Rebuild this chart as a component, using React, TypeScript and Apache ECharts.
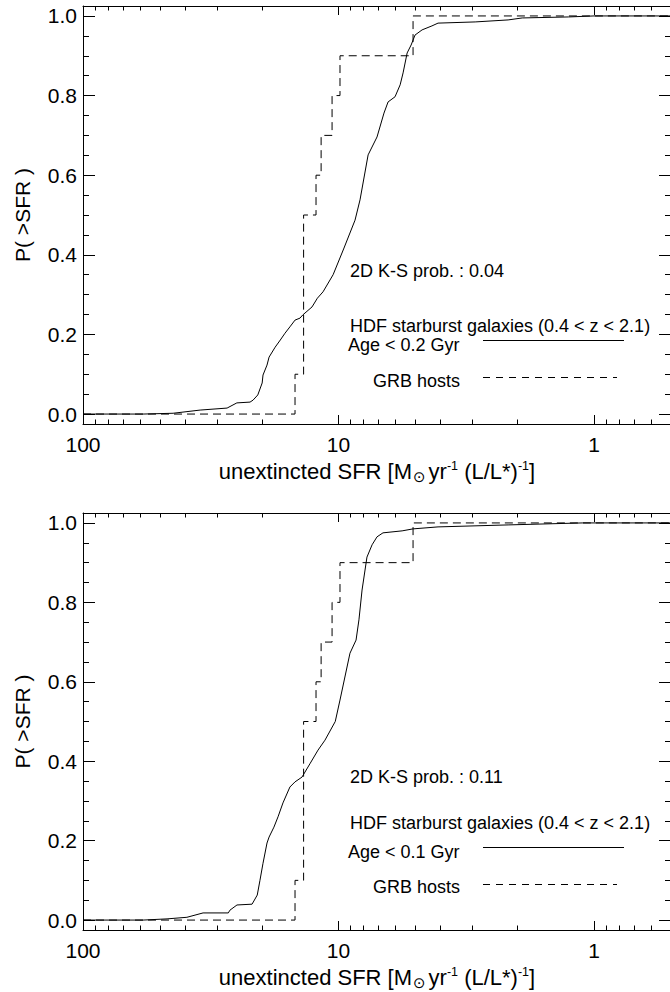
import React, { useEffect, useRef } from 'react';
import * as echarts from 'echarts';

const FONT = '"Liberation Sans", Arial, Helvetica, sans-serif';

// ---------- data ----------
// Top panel: HDF starburst galaxies, Age < 0.2 Gyr (cumulative P(>SFR))
const hdfTopSFR = [100, 58.2, 44.4, 34.8, 27.3, 25.0, 22.2, 21.6, 20.7, 19.9, 19.75, 19.05, 18.7, 17.7, 16.9, 16.2, 15.5, 14.8, 14.15, 13.8, 12.7, 12.1, 11.5, 10.5, 9.52, 8.62, 8.24, 7.66, 7.07, 6.64, 6.4, 6.01, 5.74, 5.59, 5.39, 5.2, 5.02, 4.71, 4.31, 4.08, 2.92, 2.17, 1.91, 1.26, 1.0, 0.5];
const hdfTopP = [0, 0, 0.002, 0.01, 0.015, 0.028, 0.03, 0.035, 0.048, 0.078, 0.098, 0.123, 0.143, 0.168, 0.186, 0.203, 0.219, 0.236, 0.241, 0.249, 0.269, 0.291, 0.307, 0.35, 0.417, 0.487, 0.538, 0.651, 0.696, 0.756, 0.784, 0.797, 0.827, 0.857, 0.907, 0.927, 0.952, 0.965, 0.975, 0.982, 0.985, 0.99, 0.995, 0.9975, 1.0, 1.0];

// Bottom panel: HDF starburst galaxies, Age < 0.1 Gyr
const hdfBotSFR = [100, 58.2, 46.9, 39.2, 33.9, 27.0, 26.6, 24.97, 21.8, 20.8, 20.3, 19.75, 19.05, 18.7, 17.9, 17.25, 16.5, 15.5, 14.8, 13.9, 12.9, 12.03, 11.3, 10.3, 9.87, 9.02, 8.54, 8.32, 8.09, 7.74, 7.39, 7.07, 6.7, 5.64, 5.11, 4.08, 2.17, 1.11, 0.5];
const hdfBotP = [0, 0, 0.003, 0.007, 0.018, 0.018, 0.025, 0.038, 0.04, 0.063, 0.1, 0.143, 0.194, 0.209, 0.234, 0.26, 0.295, 0.335, 0.348, 0.36, 0.395, 0.428, 0.453, 0.5, 0.554, 0.672, 0.705, 0.756, 0.831, 0.914, 0.945, 0.965, 0.975, 0.98, 0.985, 0.99, 0.995, 1.0, 1.0];

// GRB hosts (step function, same in both panels)
const grbSFR = [100, 14.8, 13.7, 12.25, 11.7, 10.6, 9.87, 5.11, 0.5];
const grbP = [0, 0.1, 0.5, 0.6, 0.7, 0.8, 0.9, 1.0, 1.0];

const ksTop = '2D K-S prob. : 0.04';
const ksBot = '2D K-S prob. : 0.11';
const ageTop = 'Age < 0.2 Gyr';
const ageBot = 'Age < 0.1 Gyr';
const hdfLabel = 'HDF starburst galaxies (0.4 < z < 2.1)';
const grbLabel = 'GRB hosts';

const xMajorLabels = [1, 10, 100];
const xMinorTicks = [0.6, 0.7, 0.8, 0.9, 2, 3, 4, 5, 6, 7, 8, 9, 20, 30, 40, 50, 60, 70, 80, 90];

const X_MIN = 0.5;
const X_MAX = 100;
const Y_MIN = -0.025;
const Y_MAX = 1.025;

const zip = (a: number[], b: number[]) => a.map((v, i) => [v, b[i]]);

export default function App() {
  const ref = useRef<HTMLDivElement>(null);

  useEffect(() => {
    document.body.style.margin = '0';
    if (!ref.current) return;
    const chart = echarts.init(ref.current, undefined, { renderer: 'svg' });

    const grids = [
      { left: 83, top: 6, width: 588, height: 418, outerBoundsMode: 'none' },
      { left: 83, top: 513, width: 588, height: 417, outerBoundsMode: 'none' },
    ];

    const xTitle = '{a|unextincted SFR [M}{sun|⊙}{a|yr}{sup|-1}{a| (L/L*)}{sup|-1}{a|]}';

    const xAxes: any[] = [];
    const yAxes: any[] = [];
    [0, 1].forEach((g) => {
      xAxes.push({
        type: 'log',
        logBase: 10,
        gridIndex: g,
        position: 'bottom',
        min: X_MIN,
        max: X_MAX,
        inverse: true,
        axisLine: { show: true, onZero: false, lineStyle: { color: '#000', width: 1 } },
        axisTick: { show: true, inside: true, length: 9, lineStyle: { color: '#000', width: 1 } },
        axisLabel: {
          show: true,
          color: '#000',
          fontFamily: FONT,
          fontSize: 21,
          margin: 10,
          formatter: (v: number) => {
            const m = xMajorLabels.find((t) => Math.abs(t - v) / t < 1e-6);
            return m !== undefined ? String(m) : '';
          },
        },
        splitLine: { show: false },
        minorSplitLine: { show: false },
        name: xTitle,
        nameLocation: 'middle',
        nameGap: g === 0 ? 34 : 29,
        nameTextStyle: {
          color: '#000',
          fontFamily: FONT,
          fontSize: 22,
          rich: {
            a: { fontFamily: FONT, fontSize: 22, color: '#000', lineHeight: 24 },
            sun: { fontFamily: '"DejaVu Sans", sans-serif', fontSize: 15, color: '#000', lineHeight: 8, padding: [14, 3, 2, 1] },
            sup: { fontFamily: FONT, fontSize: 12.5, color: '#000', lineHeight: 14, verticalAlign: 'top' },
          },
        },
      });
      xAxes.push({
        type: 'log',
        logBase: 10,
        gridIndex: g,
        position: 'top',
        min: X_MIN,
        max: X_MAX,
        inverse: true,
        axisLine: { show: true, onZero: false, lineStyle: { color: '#000', width: 1 } },
        axisTick: { show: true, inside: true, length: 9, lineStyle: { color: '#000', width: 1 } },
        axisLabel: { show: false },
        splitLine: { show: false },
      });
      yAxes.push({
        type: 'value',
        gridIndex: g,
        position: 'left',
        min: Y_MIN,
        max: Y_MAX,
        splitNumber: 5,
        axisLine: { show: true, onZero: false, lineStyle: { color: '#000', width: 1 } },
        axisTick: { show: true, inside: true, length: 12, lineStyle: { color: '#000', width: 1 } },
        minorTick: { show: true, splitNumber: 4, length: 6, lineStyle: { color: '#000', width: 1 } },
        axisLabel: {
          show: true,
          color: '#000',
          fontFamily: FONT,
          fontSize: 21,
          margin: 6,
          formatter: (v: number) => (Math.abs(v * 5 - Math.round(v * 5)) < 1e-6 ? v.toFixed(1) : ''),
        },
        splitLine: { show: false },
        minorSplitLine: { show: false },
        name: 'P( >SFR )',
        nameLocation: 'middle',
        nameGap: 50,
        nameTextStyle: { color: '#000', fontFamily: FONT, fontSize: 21 },
      });
      yAxes.push({
        type: 'value',
        gridIndex: g,
        position: 'right',
        min: Y_MIN,
        max: Y_MAX,
        splitNumber: 5,
        axisLine: { show: true, onZero: false, lineStyle: { color: '#000', width: 1 } },
        axisTick: { show: true, inside: true, length: 12, lineStyle: { color: '#000', width: 1 } },
        minorTick: { show: true, splitNumber: 4, length: 6, lineStyle: { color: '#000', width: 1 } },
        axisLabel: { show: false },
        splitLine: { show: false },
        minorSplitLine: { show: false },
      });
    });

    const minorTickSeries = (g: number) => ({
      type: 'custom',
      xAxisIndex: g * 2,
      yAxisIndex: g * 2,
      silent: true,
      clip: false,
      data: xMinorTicks.map((v) => [v, 0]),
      renderItem: (_p: any, api: any) => {
        const v = api.value(0);
        const b = api.coord([v, Y_MIN]);
        const t = api.coord([v, Y_MAX]);
        const x = Math.round(b[0]) + 0.5;
        return {
          type: 'group',
          children: [
            { type: 'line', shape: { x1: x, y1: b[1], x2: x, y2: b[1] - 4.5 }, style: { stroke: '#000', lineWidth: 1 } },
            { type: 'line', shape: { x1: x, y1: t[1], x2: x, y2: t[1] + 4.5 }, style: { stroke: '#000', lineWidth: 1 } },
          ],
        };
      },
    });

    const solid = (g: number, xs: number[], ys: number[]) => ({
      type: 'line',
      xAxisIndex: g * 2,
      yAxisIndex: g * 2,
      data: zip(xs, ys),
      symbol: 'none',
      showSymbol: false,
      lineStyle: { color: '#000', width: 1 },
      silent: true,
    });
    const dashed = (g: number) => ({
      type: 'line',
      xAxisIndex: g * 2,
      yAxisIndex: g * 2,
      data: zip(grbSFR, grbP),
      step: 'end',
      symbol: 'none',
      showSymbol: false,
      lineStyle: { color: '#000', width: 1, type: [8, 5] },
      silent: true,
    });

    const txt = (text: string, x: number, y: number) => ({
      type: 'text',
      x,
      y,
      style: { text, fill: '#000', fontFamily: FONT, fontSize: 18, verticalAlign: 'middle', align: 'left' },
      silent: true,
    });
    const hline = (x1: number, x2: number, y: number, dash?: number[]) => ({
      type: 'line',
      shape: { x1, y1: y + 0.5, x2, y2: y + 0.5 },
      style: { stroke: '#000', lineWidth: 1, lineDash: dash },
      silent: true,
    });

    const legendBlock = (ks: string, age: string, yKs: number, yHdf: number, yAge: number, yLine: number, yGrb: number, yDash: number) => [
      txt(ks, 350, yKs),
      txt(hdfLabel, 350, yHdf),
      txt(age, 348, yAge),
      hline(483, 624, yLine),
      txt(grbLabel, 373, yGrb),
      hline(483, 617, yDash, [7, 6]),
    ];

    chart.setOption({
      animation: false,
      backgroundColor: '#fff',
      grid: grids,
      xAxis: xAxes,
      yAxis: yAxes,
      series: [
        solid(0, hdfTopSFR, hdfTopP),
        dashed(0),
        minorTickSeries(0),
        solid(1, hdfBotSFR, hdfBotP),
        dashed(1),
        minorTickSeries(1),
      ],
      graphic: [
        ...legendBlock(ksTop, ageTop, 271, 326, 345, 340, 381, 377),
        ...legendBlock(ksBot, ageBot, 777, 823, 852, 847, 887, 884),
      ],
    } as any);

    return () => chart.dispose();
  }, []);

  return <div ref={ref} style={{ width: 670, height: 992 }} />;
}
